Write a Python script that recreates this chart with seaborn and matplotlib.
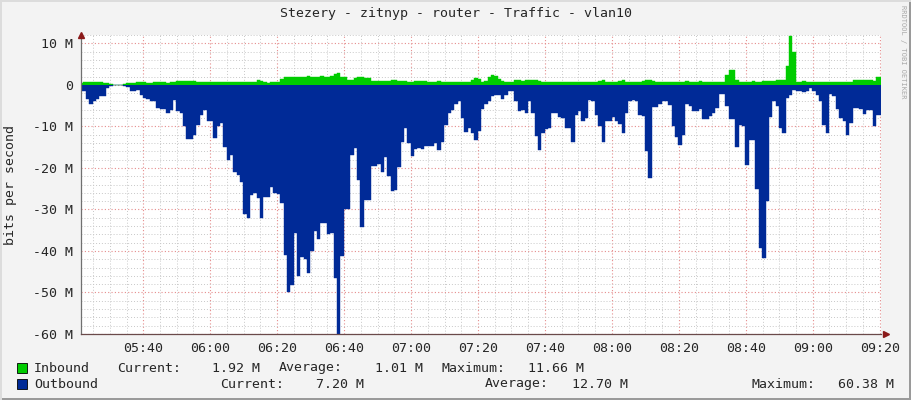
import numpy as np
import pandas as pd
import seaborn as sns
import matplotlib.pyplot as plt
from matplotlib.ticker import MultipleLocator
from matplotlib.patches import Rectangle

title = "Stezery - zitnyp - router - Traffic - vlan10"
start_minute = 321.4  # 05:21 -> left edge of the graph, one sample per minute

# traffic in Mbit/s, one value per minute
inbound = [
    0.5, 0.6, 0.8, 0.8, 0.7, 0.6, 0.6, 0.5, 0.5, 0.3,
    0.0, 0.0, 0.0, 0.3, 0.5, 0.5, 0.5, 0.6, 0.6, 0.6,
    0.5, 0.5, 0.6, 0.6, 0.6, 0.6, 0.5, 0.6, 0.7, 0.9,
    1.0, 1.0, 1.0, 1.0, 0.9, 0.7, 0.6, 0.7, 0.8, 0.7,
    0.7, 0.8, 0.8, 0.7, 0.7, 0.8, 0.8, 0.8, 0.8, 0.7,
    0.7, 0.6, 0.8, 1.1, 1.0, 0.7, 0.5, 0.7, 0.8, 0.8,
    1.4, 1.8, 1.9, 1.8, 1.9, 1.9, 1.8, 2.0, 2.2, 2.0,
    1.8, 2.0, 2.2, 1.8, 1.9, 2.1, 2.6, 2.8, 2.0, 1.9,
    1.1, 1.1, 1.7, 1.8, 1.8, 1.7, 1.6, 0.9, 0.9, 0.9,
    1.0, 0.9, 1.0, 1.1, 1.1, 0.9, 0.9, 0.9, 0.8, 0.8,
    0.9, 0.9, 1.0, 0.9, 0.8, 0.8, 0.8, 0.9, 0.8, 0.7,
    0.7, 0.8, 0.8, 0.8, 0.7, 0.8, 0.8, 1.2, 1.6, 1.5,
    0.8, 0.9, 1.8, 2.3, 2.2, 1.4, 0.9, 0.7, 0.6, 0.8,
    1.1, 1.2, 1.0, 1.1, 1.1, 1.2, 1.2, 1.0, 0.8, 0.7,
    0.6, 0.6, 0.7, 0.8, 0.6, 0.6, 0.7, 0.7, 0.8, 0.8,
    0.8, 0.7, 0.7, 0.8, 0.7, 1.0, 1.1, 0.8, 0.7, 0.7,
    0.8, 1.0, 1.1, 0.8, 0.7, 0.7, 0.6, 0.8, 0.9, 1.1,
    1.2, 1.0, 0.8, 0.7, 0.6, 0.6, 0.6, 0.6, 0.7, 0.8,
    0.8, 0.9, 0.8, 0.8, 0.7, 0.9, 0.8, 0.7, 0.8, 0.6,
    0.7, 0.8, 0.8, 2.4, 3.6, 3.6, 1.2, 0.8, 0.7, 0.7,
    0.8, 0.9, 0.8, 0.7, 1.0, 1.0, 0.9, 0.9, 1.2, 1.2,
    1.2, 4.6, 11.66, 8.0, 0.6, 0.7, 0.9, 0.8, 0.8, 0.8,
    0.8, 0.8, 0.8, 0.8, 0.7, 0.7, 0.7, 0.7, 0.7, 0.8,
    0.8, 1.2, 1.2, 1.1, 1.1, 1.1, 1.1, 1.0, 1.9, 1.92,
]
outbound = [
    1.5, 1.6, 3.5, 4.5, 3.8, 3.5, 2.8, 2.8, 0.8, 0.2,
    0.0, 0.0, 0.0, 0.2, 0.5, 1.6, 1.6, 1.2, 2.4, 3.2,
    3.5, 4.0, 4.0, 5.6, 5.8, 5.8, 6.8, 6.0, 3.6, 6.4,
    6.8, 10.0, 13.0, 13.0, 12.0, 9.6, 7.2, 6.0, 8.8, 8.8,
    12.9, 10.0, 9.2, 14.9, 18.0, 16.9, 20.9, 21.7, 23.3, 31.0,
    32.0, 26.5, 26.0, 27.3, 32.0, 27.0, 27.0, 24.5, 26.0, 26.3,
    28.4, 41.0, 49.8, 48.2, 35.7, 46.0, 41.5, 42.0, 45.4, 40.0,
    35.3, 37.2, 33.3, 33.3, 36.0, 35.7, 46.6, 60.38, 41.2, 30.0,
    30.0, 17.0, 15.3, 22.9, 34.3, 27.7, 27.7, 19.5, 19.5, 19.0,
    20.9, 17.4, 21.9, 25.5, 25.3, 19.7, 13.7, 10.4, 14.0, 17.1,
    15.5, 15.3, 15.5, 14.7, 14.7, 14.7, 14.0, 15.8, 13.7, 9.6,
    6.8, 6.0, 4.6, 4.0, 8.0, 11.4, 10.4, 11.5, 13.4, 11.2,
    5.9, 4.6, 3.8, 2.8, 2.4, 2.4, 3.5, 2.4, 1.6, 1.4,
    4.0, 6.4, 6.0, 6.8, 4.0, 6.8, 12.4, 15.8, 11.6, 10.7,
    10.5, 6.7, 6.7, 7.8, 8.0, 10.5, 10.5, 13.7, 7.2, 6.4,
    8.6, 8.0, 3.6, 3.8, 7.2, 9.9, 13.7, 8.6, 8.6, 7.8,
    8.6, 9.4, 11.5, 6.7, 3.8, 3.6, 3.8, 7.2, 7.5, 16.0,
    22.5, 5.4, 5.4, 4.6, 4.0, 3.8, 4.8, 9.9, 12.6, 14.5,
    12.0, 4.6, 5.0, 6.4, 6.4, 5.9, 8.3, 8.3, 7.5, 6.8,
    5.6, 2.2, 2.2, 5.0, 8.3, 8.3, 14.9, 9.6, 10.0, 19.3,
    13.3, 13.3, 25.0, 39.4, 41.8, 27.9, 7.8, 4.0, 5.0, 10.4,
    11.5, 3.2, 2.4, 1.2, 1.4, 1.4, 1.8, 1.6, 0.8, 1.4,
    2.4, 4.0, 9.6, 11.5, 2.2, 2.8, 5.9, 8.0, 8.6, 12.0,
    9.2, 5.6, 5.6, 5.8, 7.0, 6.0, 6.0, 10.0, 7.2, 7.2,
]

tick_minutes = [340, 360, 380, 400, 420, 440, 460, 480, 500, 520, 540, 560]
tick_labels = ["05:40", "06:00", "06:20", "06:40", "07:00", "07:20",
               "07:40", "08:00", "08:20", "08:40", "09:00", "09:20"]
y_ticks = [10, 0, -10, -20, -30, -40, -50, -60]
y_tick_labels = ["10 M", "0", "-10 M", "-20 M", "-30 M", "-40 M", "-50 M", "-60 M"]

series_names = ["Inbound", "Outbound"]
series_colors = ["#00CC00", "#002A97"]
current = ["1.92 M", "7.20 M"]
average = ["1.01 M", "12.70 M"]
maximum = ["11.66 M", "60.38 M"]

df = pd.DataFrame({
    "minute": start_minute + np.arange(len(inbound)),
    "Inbound": inbound,
    "Outbound": -np.array(outbound),
})

sns.set_style("white")
plt.rcParams["font.family"] = ["DejaVu Sans Mono"]
plt.rcParams["font.size"] = 9.5

W, H = 911, 400
fig = plt.figure(figsize=(W / 100, H / 100), dpi=100, facecolor="#F3F3F3")
ax = fig.add_axes([81 / W, 66 / H, 800 / W, 299 / H])
ax.set_facecolor("white")

for name, color in zip(series_names, series_colors):
    ax.fill_between(df["minute"], 0, df[name], step="mid", color=color, lw=0, zorder=3)
    sns.lineplot(data=df, x="minute", y=name, ax=ax, color=color, lw=0.3,
                 drawstyle="steps-mid", zorder=3)

ax.set_xlim(start_minute, start_minute + 239)
ax.set_ylim(-60, 12)
ax.set_xticks(tick_minutes, tick_labels)
ax.set_yticks(y_ticks, y_tick_labels)
ax.xaxis.set_minor_locator(MultipleLocator(5))
ax.yaxis.set_minor_locator(MultipleLocator(2))
ax.set_xlabel("")
ax.set_ylabel("")

ax.set_axisbelow(True)
ax.grid(which="minor", color="#C8C8C8", ls=(0, (1, 2)), lw=0.7)
ax.grid(which="major", color="#E58C8C", ls=(0, (1, 2)), lw=0.8)

for s in ["top", "right"]:
    ax.spines[s].set_visible(False)
ax.spines["left"].set_color("#707070")
ax.spines["bottom"].set_color("#6A4A4A")
for s in ["left", "bottom"]:
    ax.spines[s].set_linewidth(0.9)
    ax.spines[s].set_zorder(4)

ax.tick_params(which="major", length=2.5, width=0.7, color="#8C6060", pad=3, labelsize=9.5)
ax.tick_params(which="minor", length=1.5, width=0.6, color="#909090")

# rrdtool style arrows at the axis ends
ax.plot([0], [1.0], marker="^", ms=5, color="#8B1A1A", transform=ax.transAxes, clip_on=False, zorder=5)
ax.plot([1.006], [0], marker=">", ms=5, color="#8B1A1A", transform=ax.transAxes, clip_on=False, zorder=5)

fig.text(0.5, 1 - 14 / H, title, ha="center", va="center", fontsize=9.5)
fig.text(11 / W, 1 - 185 / H, "bits per second", rotation=90, ha="center", va="center", fontsize=9.5)
fig.text(903 / W, 1 - 5 / H, "RRDTOOL / TOBI OETIKER", rotation=270, ha="center", va="top",
         fontsize=5, color="#A8A8A8")

rows_y = [368, 384]
label_x = [(117, 279, 441), (220, 485, 751)]
value_x = [(260, 423, 584), (364, 628, 894)]
for k in range(2):
    y = 1 - rows_y[k] / H
    fig.add_artist(Rectangle((17 / W, 1 - (rows_y[k] + 5) / H), 10 / W, 10 / H,
                             transform=fig.transFigure, fc=series_colors[k], ec="black", lw=0.6))
    fig.text(34 / W, y, series_names[k], ha="left", va="center")
    for lab, lx, val, vx in zip(["Current:", "Average:", "Maximum:"], label_x[k],
                                [current[k], average[k], maximum[k]], value_x[k]):
        fig.text(lx / W, y, lab, ha="left", va="center")
        fig.text(vx / W, y, val, ha="right", va="center")

# frame shading like rrdtool
fig.add_artist(Rectangle((0, 0), 1, 2 / H, transform=fig.transFigure, fc="#9A9A9A", lw=0))
fig.add_artist(Rectangle((1 - 2 / W, 0), 2 / W, 1, transform=fig.transFigure, fc="#9A9A9A", lw=0))
fig.add_artist(Rectangle((0, 1 - 2 / H), 1, 2 / H, transform=fig.transFigure, fc="#DCDCDC", lw=0))
fig.add_artist(Rectangle((0, 0), 2 / W, 1, transform=fig.transFigure, fc="#DCDCDC", lw=0))

fig.savefig("out.png", dpi=100, facecolor=fig.get_facecolor())
